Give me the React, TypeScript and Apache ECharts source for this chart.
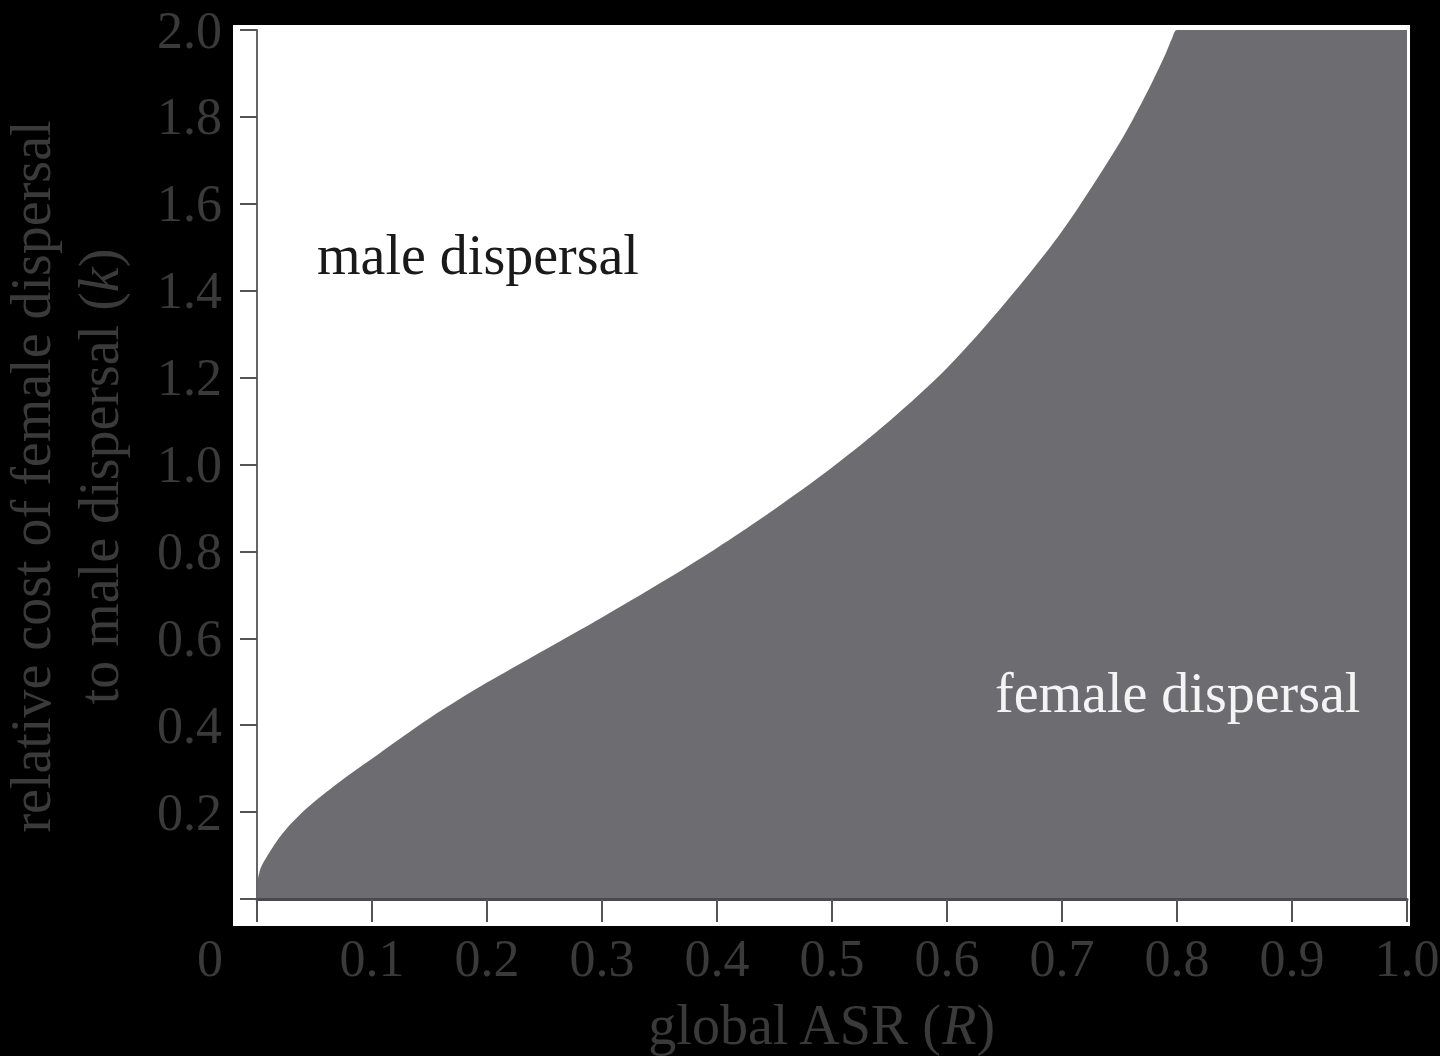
import React, { useEffect, useRef } from "react";
import * as echarts from "echarts";

// Boundary between male-biased and female-biased dispersal regions
const asrValues: number[] = [0, 0.003, 0.008, 0.014, 0.02, 0.029, 0.045, 0.07, 0.1, 0.15, 0.2, 0.25, 0.3, 0.35, 0.4, 0.45, 0.5, 0.55, 0.6, 0.65, 0.7, 0.75, 0.775, 0.79, 0.796, 0.8, 1.0];
const costValues: number[] = [0.035, 0.07, 0.095, 0.12, 0.143, 0.172, 0.213, 0.266, 0.323, 0.416, 0.498, 0.573, 0.648, 0.726, 0.808, 0.897, 0.993, 1.1, 1.222, 1.37, 1.537, 1.74, 1.862, 1.945, 1.983, 2.0, 2.0];

const xTickLabels: string[] = ["0", "0.1", "0.2", "0.3", "0.4", "0.5", "0.6", "0.7", "0.8", "0.9", "1.0"];
const yTickLabels: string[] = ["", "0.2", "0.4", "0.6", "0.8", "1.0", "1.2", "1.4", "1.6", "1.8", "2.0"];

const regionLabels: string[] = ["male dispersal", "female dispersal"];
const xAxisName = "global ASR ({i|R})";
const yAxisName = "relative cost of female dispersal\nto male dispersal ({i|k})";

const SERIF = "'Liberation Serif', 'Times New Roman', serif";
const TICK_COLOR = "#3a3a3a";
const FILL_GRAY = "#6d6c71";

export default function App() {
  const ref = useRef<HTMLDivElement>(null);

  useEffect(() => {
    document.body.style.margin = "0";
    document.body.style.overflow = "hidden";
    if (!ref.current) return;
    const chart = echarts.init(ref.current, undefined, { renderer: "svg" });

    const data = asrValues.map((r, i) => [r, costValues[i]]);

    chart.setOption({
      animation: false,
      backgroundColor: "#000000",
      grid: { left: 257, right: 33, top: 30, bottom: 157, containLabel: false, outerBoundsMode: "none" },
      graphic: [
        {
          type: "rect",
          z: -10,
          shape: { x: 233, y: 25, width: 1177, height: 901 },
          style: { fill: "#ffffff" },
          silent: true,
        },
        {
          type: "text",
          z: 10,
          x: 317,
          y: 255,
          style: {
            text: regionLabels[0],
            fill: "#1a1a1a",
            fontSize: 56,
            fontFamily: SERIF,
            align: "left",
            verticalAlign: "middle",
          },
          silent: true,
        },
        {
          type: "text",
          z: 10,
          x: 995,
          y: 693,
          style: {
            text: regionLabels[1],
            fill: "#f4f4f4",
            fontSize: 56,
            fontFamily: SERIF,
            align: "left",
            verticalAlign: "middle",
          },
          silent: true,
        },
      ],
      xAxis: {
        type: "value",
        min: 0,
        max: 1,
        interval: 0.1,
        z: 5,
        name: xAxisName,
        nameLocation: "middle",
        nameGap: 98,
        nameTextStyle: {
          fontFamily: SERIF,
          fontSize: 56,
          color: TICK_COLOR,
          padding: [0, 22, 0, 0],
          rich: { i: { fontFamily: SERIF, fontSize: 56, fontStyle: "italic", color: TICK_COLOR } },
        },
        axisLine: { show: true, lineStyle: { color: "#4a4a4a", width: 3 } },
        axisTick: { show: true, length: 23, lineStyle: { color: "#555555", width: 2 } },
        splitLine: { show: false },
        axisLabel: {
          margin: 33,
          fontFamily: SERIF,
          fontSize: 52,
          color: TICK_COLOR,
          formatter: (v: number) => {
            const idx = Math.round(v * 10);
            const t = xTickLabels[idx] ?? "";
            return idx === 0 ? "{o|" + t + "}" : t;
          },
          rich: {
            o: { fontFamily: SERIF, fontSize: 52, color: TICK_COLOR, padding: [0, 94, 0, 0] },
          },
        },
      },
      yAxis: {
        type: "value",
        min: 0,
        max: 2,
        interval: 0.2,
        z: 5,
        name: yAxisName,
        nameLocation: "middle",
        nameRotate: 90,
        nameGap: 124,
        nameTextStyle: {
          fontFamily: SERIF,
          fontSize: 56,
          lineHeight: 68,
          color: TICK_COLOR,
          padding: [0, 24, 0, 0],
          rich: { i: { fontFamily: SERIF, fontSize: 56, lineHeight: 68, fontStyle: "italic", color: TICK_COLOR } },
        },
        axisLine: { show: true, lineStyle: { color: "#666666", width: 2 } },
        axisTick: { show: true, length: 17, lineStyle: { color: "#555555", width: 2 } },
        splitLine: { show: false },
        axisLabel: {
          margin: 35,
          fontFamily: SERIF,
          fontSize: 52,
          color: TICK_COLOR,
          formatter: (v: number) => yTickLabels[Math.round(v * 5)] ?? "",
        },
      },
      series: [
        {
          type: "line",
          data,
          smooth: 0.3,
          showSymbol: false,
          symbol: "none",
          lineStyle: { width: 0, color: FILL_GRAY },
          areaStyle: { color: FILL_GRAY, opacity: 1 },
          silent: true,
          z: 2,
        },
      ],
    });

    return () => chart.dispose();
  }, []);

  return <div ref={ref} style={{ width: 1440, height: 1056 }} />;
}
